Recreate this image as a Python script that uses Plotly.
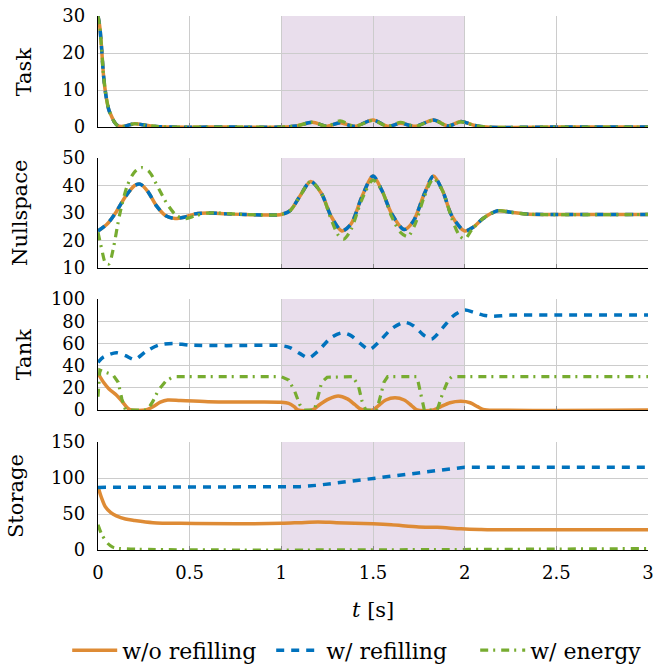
import plotly.graph_objects as go

# ---------------- data ----------------
SERIES = ["w/o refilling", "w/ refilling", "w/ energy"]
COLORS = ["#DE8B35", "#0072BD", "#77AC30"]

# Task
task_t = [0, 0.01, 0.02, 0.03, 0.045, 0.06, 0.075, 0.09, 0.11, 0.14, 0.2, 0.26, 0.32, 0.4, 0.7,
          1.0, 1.08, 1.17, 1.25, 1.32, 1.4, 1.5, 1.58, 1.65, 1.73, 1.83, 1.91, 1.98, 2.05, 2.12, 2.5, 3.0]
task_orange = [30, 27, 21, 14, 8, 4.5, 2.8, 1.3, 0.3, 0.2, 0.9, 0.5, 0.15, 0, 0,
               0, 0.3, 1.3, 0.2, 1.2, 0.2, 1.9, 0.2, 1.0, 0.2, 1.9, 0.3, 1.5, 0.5, 0, 0, 0]
task_blue = [30, 27, 21, 14, 8, 4.5, 2.8, 1.3, 0.3, 0.2, 0.9, 0.5, 0.15, 0, 0,
             0, 0.3, 1.3, 0.2, 1.2, 0.2, 1.9, 0.2, 1.0, 0.2, 1.9, 0.3, 1.5, 0.5, 0, 0, 0]
task_green = [30, 27, 21, 14, 8, 4.5, 2.8, 1.3, 0.3, 0.2, 0.9, 0.5, 0.15, 0, 0,
              0, 0.3, 1.3, 0.2, 1.7, 0.2, 1.8, 0.2, 1.3, 0.2, 1.8, 0.3, 1.4, 0.5, 0, 0, 0]

# Nullspace
null_t = [0, 0.05, 0.1, 0.15, 0.2, 0.23, 0.27, 0.32, 0.37, 0.42, 0.47, 0.53, 0.6, 0.7, 0.8, 1.0,
          1.05, 1.1, 1.16, 1.22, 1.27, 1.33, 1.38, 1.44, 1.5, 1.55, 1.6, 1.67, 1.72, 1.78, 1.83,
          1.88, 1.93, 2.0, 2.05, 2.1, 2.18, 2.25, 2.35, 2.5, 3.0]
null_orange = [23.5, 26, 30.5, 36, 40, 40.5, 38, 32.5, 29, 28, 28.5, 29.7, 30, 29.7, 29.5, 29.5,
               31, 36, 41.5, 37, 29, 23.5, 26, 36, 43.5, 38, 30, 24, 27, 37, 43.5,
               38, 29, 23.5, 25, 28, 30.8, 30.3, 29.6, 29.5, 29.5]
null_blue = [23.5, 26, 30.5, 36, 40, 40.5, 38, 32.5, 29, 28, 28.5, 29.7, 30, 29.7, 29.5, 29.5,
             31, 36, 41.5, 37, 29, 23.5, 26, 36, 43.5, 38, 30, 24, 27, 37, 43.5,
             38, 29, 23.5, 25, 28, 30.8, 30.3, 29.6, 29.5, 29.5]
null_green_t = [0, 0.02, 0.04, 0.06, 0.08, 0.12, 0.16, 0.2, 0.24, 0.28, 0.33, 0.38, 0.43, 0.48, 0.53,
                0.6, 0.8, 1.0, 1.05, 1.1, 1.16, 1.22, 1.27, 1.31, 1.34, 1.38, 1.44, 1.5, 1.55, 1.6,
                1.65, 1.69, 1.73, 1.78, 1.83, 1.88, 1.93, 1.97, 2.0, 2.04, 2.1, 2.18, 2.25, 2.35, 3.0]
null_green = [23, 17, 12, 11.5, 16, 30, 40, 45, 46.5, 45, 39, 33, 29, 28, 29,
              30, 29.5, 29.5, 31, 36, 41.5, 37, 28, 22, 20.5, 24, 35, 42, 38, 29,
              23, 21.5, 26, 36, 42.5, 38, 28, 22, 20.5, 24, 28, 30.8, 30.3, 29.6, 29.5]

# Tank
tank_orange_t = [0, 0.03, 0.06, 0.1, 0.13, 0.16, 0.18, 0.26, 0.3, 0.34, 0.38, 0.45, 0.6, 0.8, 1.0,
                 1.04, 1.07, 1.09, 1.17, 1.21, 1.26, 1.31, 1.36, 1.4, 1.43, 1.45, 1.5, 1.53, 1.57,
                 1.62, 1.67, 1.71, 1.74, 1.83, 1.87, 1.92, 1.98, 2.03, 2.07, 2.1, 2.12, 3.0]
tank_orange = [33, 25, 19, 13.5, 8, 2, 0, 0, 3, 7, 9, 8.5, 7.5, 7.2, 7,
               6, 3, 0, 0, 5, 10, 12.5, 10, 5, 1, 0, 0, 4, 9,
               11, 9, 4, 0, 0, 3, 6.5, 7.8, 6.5, 3, 0.5, 0, 0]
tank_blue_t = [0, 0.03, 0.1, 0.15, 0.2, 0.26, 0.33, 0.41, 0.5, 0.7, 1.0, 1.05, 1.1, 1.15, 1.2,
               1.27, 1.33, 1.38, 1.43, 1.48, 1.53, 1.6, 1.67, 1.72, 1.78, 1.82, 1.88, 1.94, 2.0,
               2.05, 2.1, 2.15, 2.25, 2.5, 3.0]
tank_blue = [43, 47.7, 51.6, 49, 45.5, 52.5, 58.5, 60, 58.5, 58, 58, 56, 51, 47, 53,
             65, 69.5, 67, 60, 54.5, 61, 73, 79, 76, 67, 64, 74, 85, 90,
             88, 85.5, 84.5, 85.5, 85.5, 85.5]
tank_green_t = [0, 0.01, 0.04, 0.08, 0.11, 0.13, 0.15, 0.27, 0.3, 0.33, 0.37, 0.41, 1.0, 1.04, 1.07,
                1.1, 1.12, 1.18, 1.2, 1.22, 1.25, 1.39, 1.42, 1.44, 1.46, 1.52, 1.54, 1.56, 1.58,
                1.74, 1.76, 1.78, 1.85, 1.88, 1.91, 1.93, 3.0]
tank_green = [12, 36, 34, 32, 25, 10, 0, 0, 8, 18, 26, 30, 30, 27, 18,
              5, 0, 0, 12, 25, 29.5, 30, 22, 8, 0, 0, 12, 25, 30,
              30, 15, 0, 0, 15, 27, 30, 30]

# Storage
stor_orange_t = [0, 0.02, 0.04, 0.07, 0.1, 0.15, 0.2, 0.3, 0.45, 1.0, 1.1, 1.2, 1.3, 1.5, 1.6, 1.75,
                 1.85, 1.98, 2.08, 2.15, 3.0]
stor_orange = [88, 72, 60, 52, 47.5, 43, 41, 38, 37, 37, 38, 39, 38, 36.3, 35, 32,
               31.5, 29.5, 28.5, 28, 28]
stor_blue_t = [0, 1.0, 1.1, 1.2, 1.3, 1.4, 1.5, 1.6, 1.7, 1.8, 1.9, 2.0, 3.0]
stor_blue = [87, 87, 88, 90, 93, 97, 100, 103, 106, 109, 112, 115, 115]
stor_green_t = [0, 0.02, 0.05, 0.08, 0.12, 3.0]
stor_green = [35, 22, 10, 4, 2, 2]

YLABELS = ["Task", "Nullspace", "Tank", "Storage"]
YRANGES = [[0, 30], [10, 50], [0, 100], [0, 150]]
YDTICKS = [10, 10, 20, 50]
XTICKS = [0, 0.5, 1, 1.5, 2, 2.5, 3]
XTICKTEXT = ["0", "0.5", "1", "1.5", "2", "2.5", "3"]
SHADE = [1, 2]

panels = [
    [(task_t, task_orange), (task_t, task_blue), (task_t, task_green)],
    [(null_t, null_orange), (null_t, null_blue), (null_green_t, null_green)],
    [(tank_orange_t, tank_orange), (tank_blue_t, tank_blue), (tank_green_t, tank_green)],
    [(stor_orange_t, stor_orange), (stor_blue_t, stor_blue), (stor_green_t, stor_green)],
]

# ---------------- styling ----------------
FONT = "DejaVu Serif"
DASHES = ["solid", "8px,7px", "8px,5px,2px,6px"]
WIDTHS = [3.5, 3.5, 3.2]
DOMAINS = [[0.792, 1.0], [0.528, 0.734], [0.2622, 0.470], [0.0, 0.2022]]
LABEL_X = [-0.135, -0.142, -0.135, -0.149]

fig = go.Figure()
for p, series in enumerate(panels):
    ax = "" if p == 0 else str(p + 1)
    for s, (tx, ty) in enumerate(series):
        linear = (p == 2 and s == 2) or (p == 3 and s == 1)
        fig.add_trace(go.Scatter(
            x=tx, y=ty, mode="lines", name=SERIES[s], legendgroup=SERIES[s],
            showlegend=(p == 0),
            line=dict(color=COLORS[s], width=WIDTHS[s], dash=DASHES[s],
                      shape="linear" if linear else "spline", smoothing=0.8),
            xaxis="x" + ax, yaxis="y" + ax,
        ))

layout = dict(
    width=655, height=666,
    margin=dict(l=98, r=7, t=16, b=116, autoexpand=False),
    paper_bgcolor="white", plot_bgcolor="white",
    font=dict(family=FONT, size=18, color="black"),
    showlegend=True,
    legend=dict(orientation="h", x=-0.056, xanchor="left", y=-0.188, yanchor="middle",
                font=dict(size=22), itemwidth=45, entrywidth=144, tracegroupgap=0,
                bgcolor="rgba(0,0,0,0)"),
)
shapes = []
annotations = []
for p in range(4):
    ax = "" if p == 0 else str(p + 1)
    layout["xaxis" + ax] = dict(
        domain=[0, 1], anchor="y" + ax, range=[0, 3],
        tickvals=XTICKS, ticktext=XTICKTEXT, showticklabels=(p == 3),
        showgrid=True, gridcolor="#cccccc", gridwidth=1,
        showline=True, linecolor="black", linewidth=1.3,
        ticks="inside", ticklen=4, tickcolor="#888888",
        zeroline=False, ticklabelstandoff=6, automargin=False,
        tickfont=dict(size=18),
        matches=None if p == 0 else "x",
    )
    layout["yaxis" + ax] = dict(
        domain=DOMAINS[p], anchor="x" + ax, range=YRANGES[p], dtick=YDTICKS[p],
        showgrid=True, gridcolor="#cccccc", gridwidth=1,
        showline=True, linecolor="black", linewidth=1.3,
        zeroline=False, ticks="", ticklabelstandoff=8, automargin=False,
        tickfont=dict(size=18),
    )
    shapes.append(dict(type="rect", xref="x" + ax, yref="y" + ax + " domain",
                       x0=SHADE[0], x1=SHADE[1], y0=0, y1=1,
                       fillcolor="#E9DEEC", line=dict(width=0), layer="below"))
    annotations.append(dict(text=YLABELS[p], xref="paper", yref="paper",
                            x=LABEL_X[p], y=sum(DOMAINS[p]) / 2, textangle=-90,
                            xanchor="center", yanchor="middle", showarrow=False,
                            font=dict(size=21)))
annotations.append(dict(text="<i>t</i> [s]", xref="paper", yref="paper", x=0.5, y=-0.1124,
                        xanchor="center", yanchor="middle", showarrow=False, font=dict(size=21)))
layout["shapes"] = shapes
layout["annotations"] = annotations
fig.update_layout(**layout)
fig.write_html("out.html", config={"displayModeBar": False},
               post_script="document.body.style.margin='0';")
